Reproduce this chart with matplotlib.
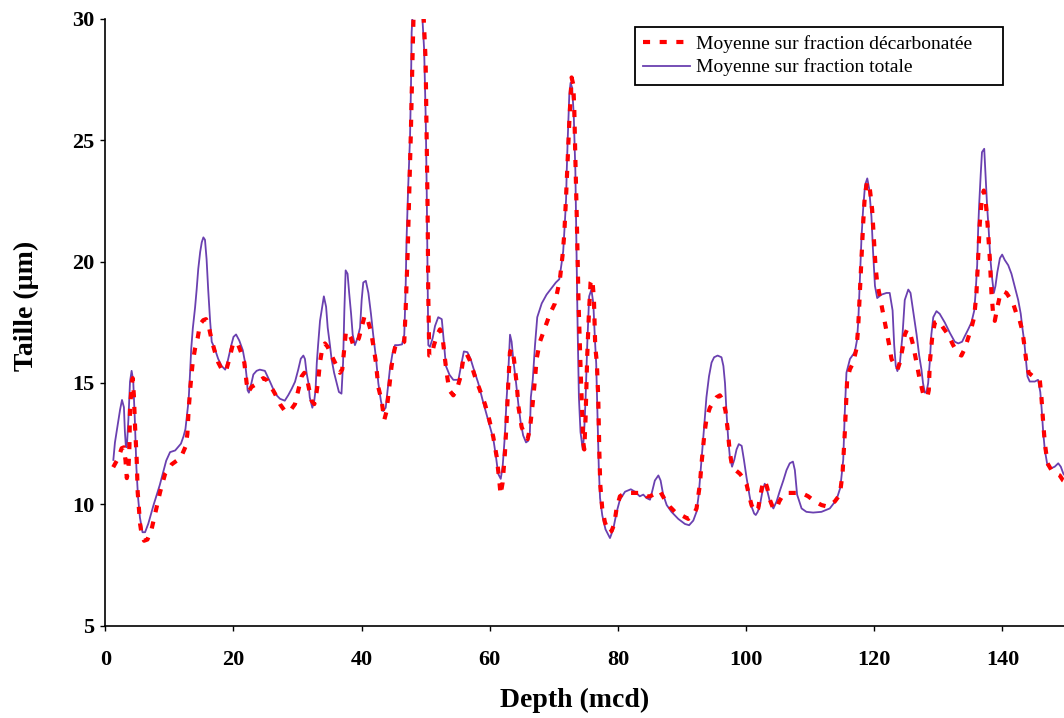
import matplotlib
matplotlib.use("Agg")
import matplotlib.pyplot as plt
import numpy as np

plt.rcParams['font.family'] = ['Liberation Serif', 'DejaVu Serif']

# Moyenne sur fraction totale
depth_tot = [1.25, 1.5, 2.0, 2.3, 2.6, 2.9, 3.05, 3.2, 3.35, 3.6, 3.85, 4.1, 4.35, 4.6, 4.85, 5.1, 5.4, 5.8, 6.2, 6.7,
             7.5, 8.5, 9.5, 10.1, 10.9, 11.8, 12.2, 12.5, 12.75, 13.0, 13.2, 13.4, 13.65, 14.0, 14.25, 14.5, 14.8, 15.05,
             15.3, 15.55, 15.8, 16.05, 16.35, 16.6, 17.1, 17.6, 18.15, 18.7, 19.05, 19.35, 19.7, 20.0, 20.4, 20.9,
             21.45, 21.8, 22.05, 22.2, 22.4, 22.8, 23.1, 23.6, 24.1, 24.9, 25.7, 26.2, 26.7, 27.25, 28.0, 28.55, 29.1,
             29.6, 30.1, 30.5, 30.9, 31.15, 31.4, 31.7, 31.9, 32.3, 32.6, 32.8, 33.0, 33.2, 33.5, 33.85, 34.1, 34.45,
             34.7, 35.05, 35.3, 35.7, 36.1, 36.45, 36.85, 37.1, 37.3, 37.5, 37.8, 38.05, 38.35, 38.6, 38.95, 39.35,
             39.75, 40.0, 40.25, 40.65, 41.05, 41.45, 41.8, 42.25, 42.6, 43.0, 43.35, 43.75, 44.05, 44.4, 44.8, 45.2,
             45.7, 46.3, 46.65, 46.85, 47.0, 47.25, 47.55, 47.7, 47.8, 48.7, 49.45, 49.75, 50.0, 50.15, 50.3, 50.4,
             50.66, 51.08, 51.45, 51.95, 52.5, 52.75, 53.15, 53.7, 54.3, 55.1, 55.6, 55.95, 56.5, 57.0, 57.5, 58.2,
             58.9, 59.5, 60.1, 60.55, 60.95, 61.3, 61.7, 62.0, 62.35, 62.6, 62.9, 63.15, 63.4, 63.65, 64.1, 64.45,
             64.8, 65.2, 65.65, 66.0, 66.25, 66.4, 66.7, 67.05, 67.4, 68.1, 68.85, 69.65, 70.3, 70.85, 71.2, 71.45,
             71.7, 71.9, 72.0, 72.15, 72.4, 72.6, 72.85, 73.1, 73.35, 73.55, 73.7, 73.9, 74.15, 74.5, 74.7, 74.95,
             75.2, 75.5, 75.85, 76.15, 76.4, 76.6, 76.8, 77.0, 77.2, 77.55, 78.05, 78.75, 79.25, 79.8, 80.3, 81.1,
             82.0, 82.65, 83.4, 83.95, 84.45, 85.0, 85.35, 85.75, 86.3, 86.65, 87.05, 87.6, 88.35, 89.4, 90.45, 91.1,
             91.75, 92.25, 92.6, 92.95, 93.3, 93.55, 93.8, 94.2, 94.6, 95.0, 95.55, 96.15, 96.45, 96.7, 96.95, 97.2,
             97.45, 97.8, 98.15, 98.5, 98.85, 99.3, 99.65, 100.05, 100.5, 100.85, 101.25, 101.5, 101.8, 102.15,
             102.55, 102.9, 103.3, 103.7, 104.25, 104.75, 105.25, 105.8, 106.3, 106.8, 107.3, 107.6, 107.95, 108.65,
             109.4, 110.45, 111.75, 113.05, 114.1, 114.7, 115.15, 115.4, 115.65, 116.2, 116.95, 117.3, 117.5, 117.75,
             118.0, 118.25, 118.55, 118.9, 119.2, 119.55, 119.8, 120.1, 120.45, 121.1, 121.9, 122.4, 122.85, 123.1,
             123.35, 123.6, 124.0, 124.4, 124.75, 125.3, 125.65, 126.05, 126.6, 127.0, 127.35, 127.6, 127.9, 128.15,
             128.4, 128.65, 128.9, 129.2, 129.7, 130.2, 131.0, 131.8, 132.55, 133.1, 133.7, 134.1, 134.65, 135.15,
             135.6, 135.8, 136.05, 136.2, 136.35, 136.6, 136.8, 137.15, 137.35, 137.6, 137.85, 138.1, 138.4, 138.65,
             138.9, 139.2, 139.6, 139.95, 140.35, 140.9, 141.4, 141.9, 142.45, 142.85, 143.1, 143.4, 143.65, 143.9,
             144.25, 145.05, 145.55, 145.9, 146.1, 146.35, 146.6, 147.0, 147.55, 148.15, 148.7, 149.1, 149.5, 150.0]
size_tot = [11.83, 12.55, 13.4, 13.9, 14.3, 14.0, 13.0, 12.4, 12.35, 13.5, 15.05, 15.5, 15.1, 13.5, 11.5, 10.3, 9.45,
            8.85, 8.85, 9.2, 9.95, 10.8, 11.8, 12.15, 12.22, 12.5, 12.8, 13.1, 13.7, 14.3, 15.3, 16.4, 17.25, 18.1,
            18.85, 19.7, 20.4, 20.8, 21.0, 20.9, 20.1, 18.85, 17.55, 16.7, 16.4, 16.0, 15.7, 15.55, 15.85, 16.2, 16.6,
            16.9, 17.0, 16.75, 16.35, 15.85, 15.25, 14.7, 14.6, 15.0, 15.35, 15.5, 15.55, 15.5, 15.05, 14.75, 14.5,
            14.35, 14.27, 14.5, 14.77, 15.05, 15.55, 16.0, 16.13, 15.99, 15.42, 14.99, 14.41, 13.98, 14.27, 14.7,
            15.84, 16.56, 17.56, 18.14, 18.57, 18.14, 17.28, 16.56, 15.99, 15.42, 14.99, 14.63, 14.56, 15.84, 17.99,
            19.64, 19.5, 18.71, 17.85, 16.99, 16.56, 16.85, 17.28, 18.42, 19.14, 19.21, 18.71, 17.85, 16.99, 15.99,
            14.99, 14.27, 13.84, 13.98, 14.7, 15.56, 16.2, 16.56, 16.56, 16.59, 16.99, 18.71, 20.86, 23.0, 25.15,
            27.3, 29.45, 34.0, 30.17, 28.73, 25.87, 23.0, 19.14, 16.56,
            16.49, 16.85, 17.35, 17.71, 17.63, 16.92, 15.7, 15.34, 15.13, 15.13, 15.84, 16.3, 16.27, 15.99, 15.56,
            14.99, 14.27, 13.7, 13.12, 12.69, 11.98, 11.26, 11.05, 11.55, 12.84, 14.27, 15.56, 16.99, 16.7, 15.99,
            14.99, 14.13, 13.41, 12.84, 12.55, 12.62, 12.98, 14.41, 15.13, 16.56, 17.71, 18.28, 18.64, 18.92, 19.14,
            19.28, 19.93, 20.43, 21.57, 22.58, 23.72, 25.01, 26.87, 27.37, 27.16, 26.01, 23.72, 20.14, 17.28, 14.41,
            12.98, 12.26, 12.84, 14.41, 16.56, 18.57, 18.85, 18.28, 16.8, 15.8, 13.7, 11.55, 10.26, 9.54, 8.97, 8.61,
            8.97, 9.69, 10.19, 10.52, 10.62, 10.52, 10.33, 10.4, 10.26, 10.19, 10.55, 10.98, 11.19, 10.98, 10.4, 9.97,
            9.69, 9.4, 9.19, 9.14, 9.33, 9.69, 10.4, 11.55, 12.69, 13.55, 14.41, 15.27, 15.84, 16.06, 16.13, 16.06,
            15.7, 14.99, 13.7, 12.69, 11.98, 11.55, 11.84, 12.26, 12.48, 12.41, 11.84, 11.12, 10.4, 9.9, 9.62, 9.56,
            9.69, 9.97, 10.55, 10.85, 10.55, 10.12, 9.83, 10.12, 10.55, 10.98, 11.41, 11.69, 11.76, 11.41, 10.4, 9.83,
            9.69, 9.66, 9.69, 9.83, 10.19, 10.69, 11.84, 13.84, 15.42, 15.99, 16.27, 16.77, 17.56, 19.28, 21.0, 22.15,
            23.15, 23.43, 23.0, 21.86, 20.43, 19.0, 18.5, 18.64, 18.71, 18.71, 17.99, 16.56, 15.7, 15.49, 15.84,
            16.99, 18.42, 18.85, 18.71, 17.99, 16.99, 16.13, 15.56, 14.99, 14.6, 14.63, 14.99, 15.84, 16.99, 17.71,
            17.96, 17.85, 17.49, 17.06, 16.7, 16.63, 16.7, 16.92, 17.21, 17.49, 17.99, 18.71, 19.85, 21.29, 22.29,
            23.58, 24.51, 24.65, 23.58, 22.29, 21.29, 20.14, 19.28, 18.71, 18.99, 19.57, 20.14, 20.29, 20.07, 19.85,
            19.5, 18.99, 18.42, 17.85, 17.28, 16.7, 15.99, 15.27, 15.06, 15.06, 15.13, 14.63, 13.98, 12.98, 12.26,
            11.62, 11.48, 11.55, 11.69, 11.55, 11.26, 11.1]

# Moyenne sur fraction décarbonatée
depth_dec = [1.23, 2.0, 2.55, 2.9, 3.15, 3.35, 3.6, 3.76, 3.85, 4.1, 4.27, 4.45, 4.64, 4.9, 5.05, 5.42, 5.7, 6.05,
             6.57, 7.24, 7.76, 8.54, 9.32, 10.36, 11.15, 11.9, 12.55, 12.8, 13.0, 13.3, 13.63, 14.0, 14.41, 14.77,
             15.29, 15.71, 16.07, 16.59, 17.11, 17.63, 18.31, 18.83, 19.35, 19.87, 20.23, 20.75, 21.27, 21.69, 22.05,
             22.31, 22.83, 23.35, 23.87, 24.65, 25.3, 25.69, 26.47, 27.25, 28.03, 28.81, 29.59, 30.11, 30.63, 31.05,
             31.41, 31.83, 32.19, 32.61, 32.97, 33.23, 33.49, 33.85, 34.27, 34.69, 35.05, 35.57, 36.09, 36.61, 36.97,
             37.29, 37.55, 37.91, 38.33, 38.69, 39.05, 39.57, 39.99, 40.41, 40.77, 41.13, 41.45, 41.81, 42.23, 42.59,
             43.11, 43.53, 43.89, 44.25, 44.67, 44.93, 45.29, 45.97, 46.65, 46.86, 47.17, 47.38, 47.69, 47.9, 48.1,
             48.8, 49.66, 49.98, 50.13, 50.29, 50.39, 50.55, 50.92, 51.28, 51.8, 52.22, 52.64, 53.0, 53.26, 53.68,
             54.3, 54.82, 55.44, 55.86, 56.38, 56.9, 57.68, 58.46, 59.24, 59.92, 60.54, 61.06, 61.42, 61.68, 62.0,
             62.36, 62.62, 62.88, 63.14, 63.4, 63.76, 64.18, 64.49, 64.96, 65.48, 65.9, 66.26, 66.68, 67.04, 67.3,
             67.82, 68.6, 69.38, 70.16, 70.94, 71.36, 71.62, 71.88, 72.14, 72.4, 72.76, 73.02, 73.18, 73.33, 73.54,
             73.7, 73.85, 74.06, 74.22, 74.42, 74.58, 74.74, 74.94, 75.2, 75.46, 75.72, 75.99, 76.24, 76.45, 76.7,
             76.92, 77.08, 77.23, 77.54, 77.96, 78.58, 79.0, 79.42, 79.78, 80.3, 81.08, 82.02, 82.9, 83.94, 84.46,
             84.98, 85.76, 86.54, 87.32, 88.1, 88.88, 89.92, 90.96, 91.74, 92.26, 92.78, 93.04, 93.46, 93.82, 94.34,
             94.86, 95.38, 95.9, 96.42, 96.78, 97.1, 97.46, 97.82, 98.34, 99.02, 99.64, 100.06, 100.42, 100.84,
             101.36, 101.88, 102.14, 102.56, 102.92, 103.28, 103.7, 104.22, 104.74, 105.16, 105.78, 106.56, 107.6,
             108.64, 109.68, 110.72, 111.76, 112.8, 113.84, 114.62, 115.04, 115.4, 115.76, 116.18, 116.7, 117.22,
             117.48, 117.74, 118.0, 118.26, 118.52, 118.88, 119.3, 119.66, 119.92, 120.18, 120.44, 120.86, 121.28,
             121.8, 122.32, 122.68, 123.2, 123.62, 123.98, 124.4, 124.76, 125.12, 125.64, 126.06, 126.58, 127.1,
             127.62, 127.88, 128.3, 128.5, 128.66, 129.02, 129.44, 130.06, 130.74, 131.52, 132.3, 133.08, 133.6,
             134.12, 134.64, 135.16, 135.58, 135.94, 136.2, 136.46, 136.72, 137.08, 137.4, 137.66, 138.02, 138.28,
             138.54, 138.8, 139.22, 139.58, 140.1, 140.62, 141.14, 141.66, 142.18, 142.7, 143.12, 143.48, 143.74,
             144.1, 144.78, 145.46, 145.82, 146.08, 146.34, 146.6, 147.02, 147.64, 148.42, 148.94, 149.46, 150.0]
size_dec = [11.53, 11.9, 12.31, 12.35, 11.8, 11.08, 11.4, 12.4, 13.9, 14.86, 15.2, 14.5, 13.2, 11.8, 10.5, 9.2, 8.7,
            8.5, 8.55, 9.0, 9.6, 10.5, 11.25, 11.65, 11.8, 12.0, 12.4, 12.9, 13.9, 14.92, 15.84, 16.42, 16.85, 17.42,
            17.59, 17.63, 17.42, 16.77, 16.27, 15.84, 15.49, 15.49, 15.99, 16.56, 16.7, 16.56, 16.2, 15.84, 14.99,
            14.63, 14.84, 14.92, 15.06, 15.2, 15.1, 14.92, 14.56, 14.13, 13.84, 13.84, 14.13, 14.7, 15.27, 15.42,
            15.27, 14.7, 14.27, 14.13, 14.63, 15.13, 15.84, 16.42, 16.63, 16.49, 16.27, 15.99, 15.7, 15.42, 15.56,
            16.42, 17.13, 17.06, 16.85, 16.56, 16.56, 16.85, 17.28, 17.71, 17.78, 17.42, 17.13, 16.56, 15.84, 14.84,
            14.27, 13.48, 13.84, 14.7, 15.7, 16.13, 16.56, 16.56, 16.7, 17.99, 20.29, 22.43, 25.44, 28.02, 30.17,
            34.0, 30.17, 28.3, 25.15, 22.15, 18.71, 16.13, 16.13, 16.56, 16.99, 17.21, 16.85, 15.99, 15.42, 14.7,
            14.49, 14.7, 15.27, 15.99, 16.2, 15.92, 15.27, 14.7, 14.13, 13.48, 12.77, 11.98, 11.12, 10.4, 10.9,
            12.12, 13.41, 14.99, 16.27, 16.42, 15.99, 14.99, 13.98, 13.19, 12.84, 12.69, 13.12, 14.13, 15.13, 15.99,
            16.7, 17.28, 17.85, 18.28, 19.28, 20.29, 21.14, 22.58, 24.15, 25.73, 27.59, 27.3, 26.3, 24.44, 22.15,
            20.14, 18.28, 16.42, 15.13, 13.7, 12.55, 12.26, 13.55, 16.13, 17.85, 19.14, 19.28, 18.5, 16.5, 15.84,
            14.41, 12.26, 10.83, 9.83, 9.26, 8.83, 8.9, 9.19, 9.83, 10.33, 10.47, 10.47, 10.47, 10.47, 10.33, 10.33,
            10.43, 10.55, 10.19, 9.9, 9.69, 9.55, 9.4, 9.55, 9.83, 10.83, 11.69, 12.84, 13.55, 13.98, 14.2, 14.41,
            14.49, 14.27, 13.84, 13.12, 12.12, 11.55, 11.41, 11.26, 11.05, 10.83, 10.4, 9.97, 9.69, 9.83, 10.25,
            10.83, 10.98, 10.69, 10.19, 9.83, 9.83, 10.12, 10.4, 10.47, 10.47, 10.47, 10.33, 10.12, 9.97, 9.9, 10.12,
            10.4, 11.26, 12.98, 15.13, 15.56, 15.84, 16.42, 17.28, 18.71, 20.14, 21.57, 22.72, 23.29, 23.0, 22.15,
            21.0, 19.85, 19.14, 18.57, 17.99, 17.28, 16.56, 15.99, 15.7, 15.56, 15.84, 16.42, 16.99, 17.21, 16.99,
            16.56, 15.84, 15.13, 14.56, 14.41, 14.45, 14.7, 15.84, 16.85, 17.49, 17.56, 17.28, 16.99, 16.56, 16.2,
            16.13, 16.42, 16.85, 17.28, 17.71, 18.71, 20.14, 21.57, 22.43, 22.93, 22.43, 21.57, 20.14, 18.71, 17.85,
            17.56, 18.14, 18.57, 18.78, 18.71, 18.5, 18.28, 17.85, 17.56, 17.13, 16.42, 15.84, 15.42, 15.27, 15.2,
            15.13, 14.41, 13.41, 12.55, 11.69, 11.41, 11.26, 11.19, 10.98, 10.9]

labels = ["Moyenne sur fraction décarbonatée", "Moyenne sur fraction totale"]
xticks = np.arange(0, 141, 20)
yticks = np.arange(5, 31, 5)

fig = plt.figure(figsize=(10.64, 7.18), dpi=100)
ax = fig.add_axes([0.099, 0.1286, 0.901, 0.845])

l_tot, = ax.plot(depth_tot, size_tot, color="#6A40B0", linewidth=1.3, zorder=2)
l_dec, = ax.plot(depth_dec, size_dec, color="#FF0000", linewidth=3.0,
                 dashes=(1.7, 2.3), zorder=3)

ax.set_xlim(0, 149.6)
ax.set_ylim(5, 30)
ax.set_xticks(xticks)
ax.set_yticks(yticks)

ax.spines["top"].set_visible(False)
ax.spines["right"].set_visible(False)
for s in ["left", "bottom"]:
    ax.spines[s].set_linewidth(1.2)

ax.tick_params(axis="both", direction="out", length=3.8, width=1.0, labelsize=16)
ax.tick_params(axis="x", pad=14)
ax.tick_params(axis="y", pad=4)
for lab in ax.get_xticklabels() + ax.get_yticklabels():
    lab.set_fontweight("bold")

ax.set_xlabel("Depth (mcd)", fontsize=20, fontweight="bold")
ax.xaxis.set_label_coords(0.49, -0.102)
ax.set_ylabel("Taille (µm)", fontsize=20, fontweight="bold")
ax.yaxis.set_label_coords(-0.069, 0.527)

leg = ax.legend([l_dec, l_tot], labels, loc="upper left",
                bbox_to_anchor=(0.5968, 0.9628 - 0.078, 0.3461, 0.078),
                bbox_transform=fig.transFigure, mode="expand",
                borderaxespad=0, fontsize=14, fancybox=False, framealpha=1,
                edgecolor="black", handlelength=2.4, handletextpad=0.3,
                labelspacing=0.3, borderpad=0.42)
leg.get_frame().set_linewidth(1.3)

fig.savefig("out.png", dpi=100)
